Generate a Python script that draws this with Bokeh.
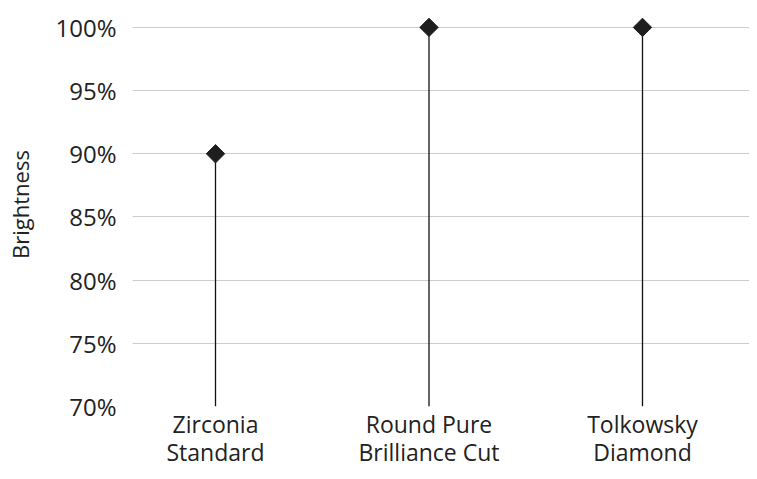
from bokeh.plotting import figure
from bokeh.models import Range1d, FixedTicker, PrintfTickFormatter
from bokeh.embed import file_html
from bokeh.resources import INLINE

categories = ["Zirconia\nStandard", "Round Pure\nBrilliance Cut", "Tolkowsky\nDiamond"]
brightness = [90, 100, 100]
baseline = [70, 70, 70]
y_ticks = [70, 75, 80, 85, 90, 95, 100]

xs = list(range(len(categories)))

p = figure(width=749, height=471, output_backend="svg", toolbar_location=None,
           x_range=Range1d(-0.3888, 2.5012), y_range=Range1d(70, 101.97))
p.min_border_left = 132
p.min_border_right = 0
p.min_border_top = 2
p.min_border_bottom = 64
p.outline_line_color = None
p.background_fill_color = "white"

p.segment(x0=xs, y0=baseline, x1=xs, y1=brightness, line_color="#111111", line_width=1.3)
p.scatter(x=xs, y=brightness, marker="square", angle=0.785398, size=13,
          fill_color="#1e1e1e", line_color="#1e1e1e")

p.xgrid.grid_line_color = None
p.ygrid.grid_line_color = "#cccccc"
p.ygrid.grid_line_width = 1.2
p.ygrid.ticker = FixedTicker(ticks=y_ticks)

xa = p.xaxis[0]
xa.ticker = FixedTicker(ticks=xs)
xa.major_label_overrides = {i: c for i, c in zip(xs, categories)}
xa.axis_line_color = None
xa.major_tick_line_color = None
xa.minor_tick_line_color = None
xa.major_label_text_font = "Open Sans"
xa.major_label_text_font_size = "23px"
xa.major_label_text_line_height = 0.9
xa.major_label_text_color = "#222222"
xa.major_label_standoff = -5

ya = p.yaxis[0]
ya.ticker = FixedTicker(ticks=y_ticks)
ya.formatter = PrintfTickFormatter(format="%d%%")
ya.axis_line_color = None
ya.major_tick_line_color = None
ya.minor_tick_line_color = None
ya.major_label_text_font = "Open Sans"
ya.major_label_text_font_size = "24px"
ya.major_label_text_color = "#222222"
ya.major_label_standoff = 10
ya.axis_label = "Brightness"
ya.axis_label_text_font = "Open Sans"
ya.axis_label_text_font_style = "normal"
ya.axis_label_text_font_size = "22px"
ya.axis_label_text_color = "#222222"
ya.axis_label_standoff = 17

open("out.html", "w").write(file_html(p, INLINE))
